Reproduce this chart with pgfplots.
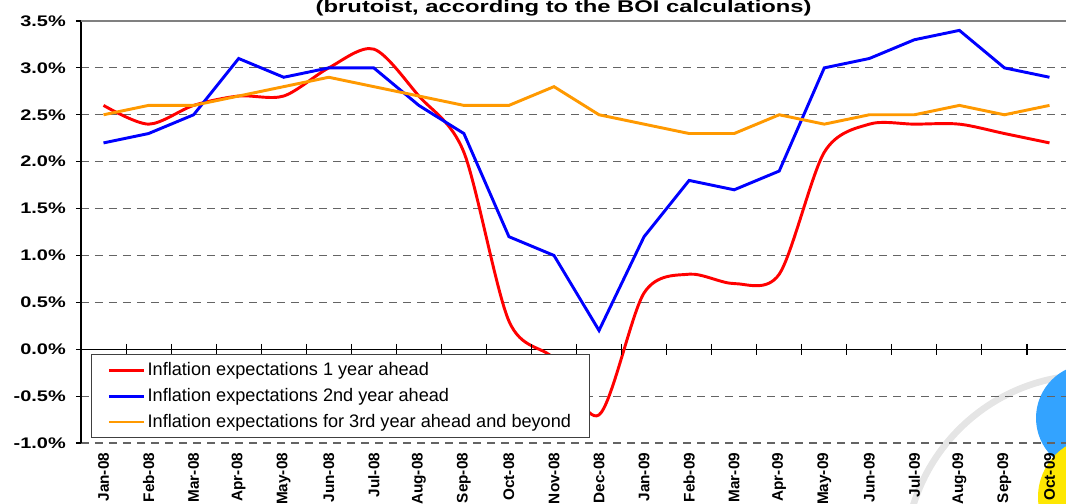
\documentclass[border=0pt]{standalone}
\usepackage{pgfplots}
\pgfplotsset{compat=1.18}
\usepackage{graphicx}
\usepackage{fontspec}
\setmainfont{Liberation Sans}

\definecolor{serred}{RGB}{255,0,0}
\definecolor{serblue}{RGB}{0,0,255}
\definecolor{serorange}{RGB}{255,153,0}
\definecolor{gridgray}{RGB}{100,100,100}

\begin{document}
\begin{tikzpicture}
% picture is 1066 x 503 px at 0.75pt/px, axis box starts at px (81,443)
\useasboundingbox (-60.75pt,-45pt) rectangle (738.75pt,332.25pt);
\clip (-60.75pt,-45pt) rectangle (738.75pt,332.25pt);

% faint logo in the lower right corner
\begin{scope}[shift={(-60.75pt,332.25pt)}, x=0.75pt, y=-0.75pt]
  \draw[black!10, line width=5pt] (1090,560) circle (185);
  \fill[blue!45!cyan!80!white] (1090,418) circle (54);
  \fill[yellow!90!orange] (1098,497) circle (60);
\end{scope}

\begin{axis}[
  at={(0,0)}, anchor=south west,
  scale only axis, width=743.25pt, height=316.5pt,
  xmin=-0.5, xmax=21.5, ymin=-1, ymax=3.5,
  axis x line*=bottom, axis y line*=left,
  x axis line style={draw=none},
  y axis line style={black, line width=0.8pt},
  xtick={0,...,21},
  xticklabels={Jan-08,Feb-08,Mar-08,Apr-08,May-08,Jun-08,Jul-08,Aug-08,Sep-08,Oct-08,Nov-08,Dec-08,
               Jan-09,Feb-09,Mar-09,Apr-09,May-09,Jun-09,Jul-09,Aug-09,Sep-09,Oct-09},
  xtick style={draw=none},
  xticklabel style={rotate=90, anchor=east, inner sep=0pt,
                    font=\bfseries\fontsize{11.5}{13}\selectfont},
  xticklabel shift=3.5pt,
  ytick={-1,-0.5,0,0.5,1,1.5,2,2.5,3,3.5},
  ytick style={black, line width=0.8pt},
  tick align=outside, major tick length=3.75pt,
  /pgf/number format/assume math mode=true,
  yticklabel={\scalebox{1.3}[1]{\bfseries\fontsize{11.5}{13}\selectfont\pgfmathprintnumber[fixed,fixed zerofill,precision=1]{\tick}\%}},
  yticklabel style={anchor=east, inner sep=0pt, xshift=-7.5pt},
  ymajorgrids,
  grid style={gridgray, line width=0.9pt, dash pattern=on 6pt off 4.5pt},
  legend style={at={(0,0)}, anchor=south west, xshift=7.5pt, yshift=3.75pt,
                draw=black!75, line width=0.6pt, fill=white,
                font=\fontsize{13.6}{16}\selectfont,
                inner xsep=12pt, inner ysep=4pt, row sep=4pt},
  legend cell align=left,
  legend image code/.code={\draw[#1, line width=2.2pt] (0pt,0pt) -- (26pt,0pt);},
  after end axis/.code={
    \draw[black!50, line width=0.8pt] (axis cs:-0.5,3.5) -- (axis cs:21.5,3.5);
  },
]
  % zero line
  \draw[black, line width=0.8pt] (axis cs:-0.5,0) -- (axis cs:21.5,0);
  % category ticks on the zero line
  \addplot[black, line width=0.8pt, only marks, mark=|, mark size=4pt, forget plot]
    coordinates {(0.5,0) (1.5,0) (2.5,0) (3.5,0) (4.5,0) (5.5,0) (6.5,0) (7.5,0) (8.5,0) (9.5,0) (10.5,0)
                 (11.5,0) (12.5,0) (13.5,0) (14.5,0) (15.5,0) (16.5,0) (17.5,0) (18.5,0) (19.5,0) (20.5,0)};

  \addplot[serred, line width=2.2pt, smooth] coordinates {
    (0,2.6) (1,2.4) (2,2.6) (3,2.7) (4,2.7) (5,3.0) (6,3.2) (7,2.7) (8,2.1) (9,0.3) (10,-0.1)
    (11,-0.7) (12,0.6) (13,0.8) (14,0.7) (15,0.8) (16,2.1) (17,2.4) (18,2.4) (19,2.4) (20,2.3) (21,2.2)};
  \addlegendentry{Inflation expectations 1 year ahead}

  \addplot[serblue, line width=2.2pt] coordinates {
    (0,2.2) (1,2.3) (2,2.5) (3,3.1) (4,2.9) (5,3.0) (6,3.0) (7,2.6) (8,2.3) (9,1.2) (10,1.0)
    (11,0.2) (12,1.2) (13,1.8) (14,1.7) (15,1.9) (16,3.0) (17,3.1) (18,3.3) (19,3.4) (20,3.0) (21,2.9)};
  \addlegendentry{Inflation expectations 2nd year ahead}

  \addplot[serorange, line width=2.2pt] coordinates {
    (0,2.5) (1,2.6) (2,2.6) (3,2.7) (4,2.8) (5,2.9) (6,2.8) (7,2.7) (8,2.6) (9,2.6) (10,2.8)
    (11,2.5) (12,2.4) (13,2.3) (14,2.3) (15,2.5) (16,2.4) (17,2.5) (18,2.5) (19,2.6) (20,2.5) (21,2.6)};
  \addlegendentry{Inflation expectations for 3rd year ahead and beyond}
\end{axis}

% title line, cut off at the top like the reference
\node[font=\bfseries\fontsize{12.75}{14}\selectfont, anchor=base] at (362pt,322.5pt)
  {\scalebox{1.4}[1]{(brutoist, according to the BOI calculations)}};
\end{tikzpicture}
\end{document}
